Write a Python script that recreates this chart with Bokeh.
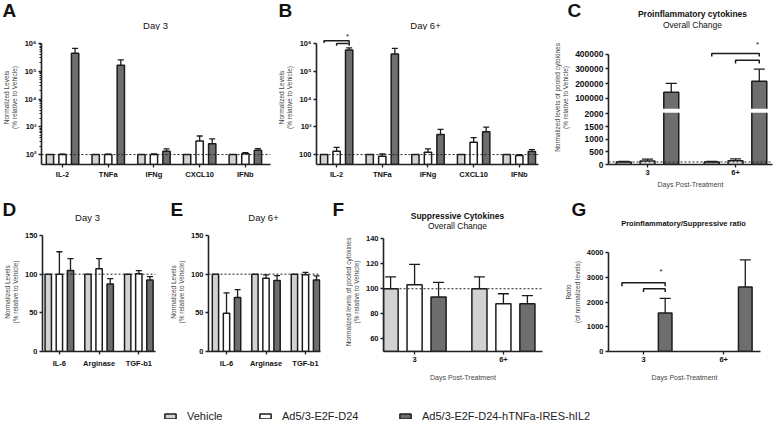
from bokeh.plotting import figure
from bokeh.models import (Range1d, FixedTicker, Span, Whisker, TeeHead, ColumnDataSource,
                          Legend, LegendItem)
from bokeh.layouts import column, row
from bokeh.embed import file_html
from bokeh.resources import INLINE
from bokeh.core.properties import value

FONT = "Liberation Sans"
SERIES = ["Vehicle", "Ad5/3-E2F-D24", "Ad5/3-E2F-D24-hTNFa-IRES-hIL2"]
FILLS = ["#d2d2d2", "#ffffff", "#6e6e6e"]
EDGE = "#1c1c1c"

# ---------------- data ----------------
pro_cats = ["IL-2", "TNFa", "IFNg", "CXCL10", "IFNb"]
a_vehicle = [100, 100, 100, 100, 100]
a_ad5 = [100, 100, 100, 310, 108]
a_ad5_err = [104, 103, 105, 466, 118]
a_armed = [440000, 163000, 132, 248, 143]
a_armed_err = [660000, 257000, 160, 365, 164]

b_vehicle = [100, 100, 100, 100, 100]
b_ad5 = [131, 87, 121, 277, 92]
b_ad5_err = [183, 105, 160, 405, 100]
b_armed = [575000, 415000, 533, 665, 130]
b_armed_err = [690000, 660000, 810, 980, 150]

days = ["3", "6+"]
c_vehicle = [100, 100]
c_vehicle_err = [125, 118]
c_ad5 = [140, 145]
c_ad5_err = [215, 220]
c_armed = [140000, 215000]
c_armed_err = [201500, 298500]

sup_cats = ["IL-6", "Arginase", "TGF-b1"]
d_vehicle = [100, 100, 100]
d_ad5 = [100, 107, 100.5]
d_ad5_err = [129, 120, 104.6]
d_armed = [104.6, 87.4, 92.6]
d_armed_err = [120, 94.3, 96.9]

e_vehicle = [100, 100, 100]
e_ad5 = [49.3, 94.6, 99.4]
e_ad5_err = [75.9, 99, 102.3]
e_armed = [69.9, 91.7, 92.6]
e_armed_err = [80, 98, 97.7]

f_vehicle = [100, 100]
f_vehicle_err = [109.5, 109.5]
f_ad5 = [103.2, 88]
f_ad5_err = [119.4, 96]
f_armed = [93.5, 88]
f_armed_err = [105, 94.5]

g_armed = [1560, 2610]
g_armed_err = [2150, 3700]

log_ticks = [100, 1000, 10000, 100000, 1000000]
a_tick_labels = ["10\u00b2", "10\u00b3", "10\u2074", "10\u2075", "10\u2076"]
b_tick_labels = ["100", "10\u00b3", "10\u2074", "10\u2075", "10\u2076"]
c_ticks = [0, 500, 1000, 1500, 2000, 100000, 200000, 300000, 400000]

# broken axis for C (lower segment 0-2000, upper 100000-400000)
C_LOW_MAX = 2000
C_UP_MIN = 100000
C_GAP = 625
C_UP_SPAN = 1725


def c_disp(v):
    if v <= C_LOW_MAX:
        return v
    return C_LOW_MAX + C_GAP + (v - C_UP_MIN) * C_UP_SPAN / 300000


YLAB_NORM = "Normalized Levels\n(% relative to Vehicle)"
YLAB_POOL = "Normalized levels of pooled cytokines\n(% relative to Vehicle)"
XLAB_DAYS = "Days Post-Treatment"

W = 776


def make_fig(w, h, bl, br, bt, bb, xr, yr, ytype="linear"):
    p = figure(width=w, height=h, x_range=Range1d(*xr), y_range=Range1d(*yr),
               y_axis_type=ytype, output_backend="svg", toolbar_location=None,
               min_border_left=bl, min_border_right=br, min_border_top=bt,
               min_border_bottom=bb)
    p.outline_line_color = None
    p.grid.visible = False
    p.background_fill_color = "white"
    p.border_fill_color = "white"
    for ax in (p.xaxis, p.yaxis):
        ax.axis_line_color = "#222222"
        ax.axis_line_width = 1.6
        ax.major_tick_line_color = "#222222"
        ax.major_tick_line_width = 1.3
        ax.major_tick_out = 3
        ax.major_tick_in = 0
        ax.minor_tick_line_color = None
        ax.major_label_text_font = FONT
        ax.major_label_text_font_style = "bold"
        ax.major_label_text_font_size = "7.5px"
        ax.major_label_text_color = "#111111"
        ax.major_label_standoff = 2
        ax.axis_label_text_font = FONT
        ax.axis_label_text_font_style = "normal"
        ax.axis_label_text_font_size = "6.5px"
        ax.axis_label_text_color = "#444444"
        ax.axis_label_standoff = 3
    return p


def blank_fig(h):
    p = figure(width=W, height=h, x_range=Range1d(0, W), y_range=Range1d(h, 0),
               output_backend="svg", toolbar_location=None, x_axis_location=None,
               y_axis_location=None, min_border=0)
    p.outline_line_color = None
    p.grid.visible = False
    return p


def header(h, items):
    # items: (x, y, text, size, bold, align) in header pixels
    p = blank_fig(h)
    for x, y, t, size, bold, align in items:
        p.text(x=[x], y=[y], text=[t], text_font=value(FONT), text_font_size=size,
               text_font_style="bold" if bold else "normal", text_align=align,
               text_baseline="middle", text_color="#111111")
    return p


def set_xcats(p, labels, xlabel=None, standoff=3):
    p.xaxis.ticker = FixedTicker(ticks=list(range(len(labels))))
    p.xaxis.major_label_overrides = {i: s for i, s in enumerate(labels)}
    if xlabel:
        p.xaxis.axis_label = xlabel
        p.xaxis.axis_label_text_font_size = "7px"
        p.xaxis.axis_label_standoff = standoff


def draw_bars(p, vals_list, err_list, off, width, bottom, head):
    for k, (vals, errs) in enumerate(zip(vals_list, err_list)):
        if vals is None:
            continue
        xs = [i + (k - 1) * off for i in range(len(vals))]
        p.vbar(x=xs, top=vals, bottom=bottom, width=width, fill_color=FILLS[k],
               line_color=EDGE, line_width=1.5)
        if errs is not None:
            src = ColumnDataSource(dict(x=xs, lo=vals, hi=errs))
            p.add_layout(Whisker(source=src, base="x", lower="lo", upper="hi",
                                 dimension="height", line_color=EDGE, line_width=1.3,
                                 upper_head=TeeHead(size=head, line_color=EDGE, line_width=1.3),
                                 lower_head=None))


def draw_sig(p, center, off, pairs, ys, drops, star_dx, star_y):
    xs_l, ys_l = [], []
    for (a, b), y, yd in zip(pairs, ys, drops):
        x0 = center + (a - 1) * off
        x1 = center + (b - 1) * off
        xs_l.append([x0, x0, x1, x1])
        ys_l.append([yd, y, y, yd])
    p.multi_line(xs_l, ys_l, line_color=EDGE, line_width=1.5)
    p.text(x=[center + star_dx], y=[star_y], text=["*"], text_font=value(FONT),
           text_font_size="8px", text_align="center", text_baseline="middle",
           text_color="#111111")


def ref_line(p, v=100):
    p.add_layout(Span(location=v, dimension="width", line_dash="2 2",
                      line_color="#222222", line_width=1))


# ---------------- row 1 ----------------
H1 = 30
head1 = header(H1, [
    (2, 9.5, "A", "19px", True, "left"),
    (278, 9.5, "B", "19px", True, "left"),
    (567, 9.5, "C", "19px", True, "left"),
    (155, 25, "Day 3", "9.5px", False, "center"),
    (425, 25, "Day 6+", "9.5px", False, "center"),
    (692, 13, "Proinflammatory cytokines", "8.5px", True, "center"),
    (692, 24, "Overall Change", "8.5px", False, "center"),
])

R1_H, R1_BT, R1_BB = 160, 0, 25
R1_FH = R1_H - R1_BT - R1_BB
LOG_BASE = 44
LOG_PX_DEC = 28.0
log_top = 10 ** (R1_FH / LOG_PX_DEC + 1.6435)

# A
pA = make_fig(272, R1_H, 41, 2, R1_BT, R1_BB, (-0.46, 4.55), (LOG_BASE, log_top), "log")
pA.yaxis.ticker = FixedTicker(ticks=log_ticks,
                              minor_ticks=[m * 10 ** e for e in range(2, 6) for m in range(2, 10)])
pA.yaxis.minor_tick_line_color = "#222222"
pA.yaxis.minor_tick_out = 2
pA.yaxis.minor_tick_in = 0
pA.yaxis.major_label_overrides = dict(zip(log_ticks, a_tick_labels))
pA.yaxis.bounds = (LOG_BASE, 1000000)
pA.yaxis.axis_label = YLAB_NORM
set_xcats(pA, pro_cats)
ref_line(pA)
draw_bars(pA, [a_vehicle, a_ad5, a_armed], [None, a_ad5_err, a_armed_err], 0.275, 0.16, 1, 6)

# B
pB = make_fig(268, R1_H, 44, 2, R1_BT, R1_BB, (-0.44, 4.42), (LOG_BASE, log_top), "log")
pB.yaxis.ticker = FixedTicker(ticks=log_ticks)
pB.yaxis.major_label_overrides = dict(zip(log_ticks, b_tick_labels))
pB.yaxis.bounds = (LOG_BASE, 1000000)
pB.yaxis.axis_label = YLAB_NORM
set_xcats(pB, pro_cats)
ref_line(pB)
draw_bars(pB, [b_vehicle, b_ad5, b_armed], [None, b_ad5_err, b_armed_err], 0.275, 0.16, 1, 6)
draw_sig(pB, 0, 0.275, [(0, 2), (1, 2)], [1250000, 1000000], [1040000, 830000], 0.24, 1750000)

# C
c_top = R1_FH * 2000 / 51
pC = make_fig(236, R1_H, 68, 4, R1_BT, R1_BB, (-0.443, 1.42), (0, c_top))
c_tick_pos = [c_disp(v) for v in c_ticks]
pC.yaxis.ticker = FixedTicker(ticks=c_tick_pos)
pC.yaxis.major_label_overrides = {d: str(v) for d, v in zip(c_tick_pos, c_ticks)}
pC.yaxis.major_label_text_font_size = "8.5px"
pC.yaxis.bounds = (0, c_disp(400000))
pC.yaxis.axis_label = YLAB_POOL
set_xcats(pC, days, XLAB_DAYS, 3)
ref_line(pC)
draw_bars(pC, [[c_disp(v) for v in c_vehicle], [c_disp(v) for v in c_ad5],
               [c_disp(v) for v in c_armed]],
          [[c_disp(v) for v in c_vehicle_err], [c_disp(v) for v in c_ad5_err],
           [c_disp(v) for v in c_armed_err]], 0.27, 0.17, 0, 11)
pC.quad(left=[-0.443], right=[1.42], bottom=[C_LOW_MAX + 40], top=[C_LOW_MAX + 200],
        fill_color="white", line_color=None)
draw_sig(pC, 1, 0.27, [(0, 2), (1, 2)], [c_disp(407000), c_disp(360000)],
         [c_disp(385000), c_disp(338000)], 0.25, c_disp(465000))

# ---------------- row 2 ----------------
H2 = 40
head2 = header(H2, [
    (2, 19, "D", "19px", True, "left"),
    (170, 19, "E", "19px", True, "left"),
    (332, 19, "F", "19px", True, "left"),
    (571, 19, "G", "19px", True, "left"),
    (87, 27, "Day 3", "9.5px", False, "center"),
    (263, 27, "Day 6+", "9.5px", False, "center"),
    (457, 25, "Suppressive Cytokines", "8.5px", True, "center"),
    (457, 35, "Overall Change", "8.5px", False, "center"),
    (683, 33, "Proinflammatory/Suppressive ratio", "7.5px", True, "center"),
])

R2_H, R2_BT, R2_BB = 162, 2, 41
R2_FH = R2_H - R2_BT - R2_BB

# D
de_top = 150 * R2_FH / 116
pD = make_fig(162, R2_H, 41, 7, R2_BT, R2_BB, (-0.425, 2.42), (0, de_top))
pD.yaxis.ticker = FixedTicker(ticks=[0, 50, 100, 150])
pD.yaxis.bounds = (0, 150)
pD.yaxis.axis_label = YLAB_NORM
set_xcats(pD, sup_cats)
pD.xaxis.major_label_standoff = 4
ref_line(pD)
draw_bars(pD, [d_vehicle, d_ad5, d_armed], [None, d_ad5_err, d_armed_err], 0.28, 0.16, 0, 6)

# E
pE = make_fig(163, R2_H, 46, 5, R2_BT, R2_BB, (-0.456, 2.38), (0, de_top))
pE.yaxis.ticker = FixedTicker(ticks=[0, 50, 100, 150])
pE.yaxis.bounds = (0, 150)
pE.yaxis.axis_label = YLAB_NORM
set_xcats(pE, sup_cats)
pE.xaxis.major_label_standoff = 4
ref_line(pE)
draw_bars(pE, [e_vehicle, e_ad5, e_armed], [None, e_ad5_err, e_armed_err], 0.28, 0.16, 0, 6)

# F
f_top = 50 + 90 * R2_FH / 113
pF = make_fig(221, R2_H, 58, 4, R2_BT, R2_BB, (-0.35, 1.44), (50, f_top))
pF.yaxis.ticker = FixedTicker(ticks=[60, 80, 100, 120, 140])
pF.yaxis.bounds = (50, 140)
pF.yaxis.axis_label = YLAB_POOL
set_xcats(pF, days, XLAB_DAYS, 9)
ref_line(pF)
draw_bars(pF, [f_vehicle, f_ad5, f_armed], [f_vehicle_err, f_ad5_err, f_armed_err], 0.27, 0.17, 0, 11)

# G
g_top = 4000 * R2_FH / 99
pG = make_fig(230, R2_H, 62, 16, R2_BT, R2_BB, (-0.4375, 1.46), (0, g_top))
pG.yaxis.ticker = FixedTicker(ticks=[0, 1000, 2000, 3000, 4000])
pG.yaxis.bounds = (0, 4000)
pG.yaxis.axis_label = "Ratio\n(of normalized levels)"
set_xcats(pG, days, XLAB_DAYS, 9)
draw_bars(pG, [None, None, g_armed], [None, None, g_armed_err], 0.27, 0.17, 0, 11)
draw_sig(pG, 0, 0.27, [(0, 2), (1, 2)], [2780, 2540], [2640, 2400], 0.22, 3250)

# ---------------- legend ----------------
lg = figure(width=W, height=31, x_range=Range1d(0, 1), y_range=Range1d(0, 1),
            output_backend="svg", toolbar_location=None, x_axis_location=None,
            y_axis_location=None, min_border=0)
lg.outline_line_color = None
lg.grid.visible = False
for k, lx in enumerate([163, 258, 398]):
    # hidden placeholder renderer, only to give the legend swatch its style
    r = lg.vbar(x=[0.5], top=[1], bottom=[0], width=0.1, fill_color=FILLS[k],
                line_color=EDGE, line_width=1.5)
    r.visible = False
    leg = Legend(items=[LegendItem(label=SERIES[k], renderers=[r])], location=(lx, 1),
                 orientation="horizontal", padding=0, margin=0, border_line_color=None,
                 background_fill_alpha=0, glyph_width=14, glyph_height=6, label_standoff=10,
                 label_text_font=FONT, label_text_font_size="11px", label_height=12,
                 label_text_color="#222222", inactive_fill_alpha=0)
    lg.add_layout(leg)

layout = column(head1, row(pA, pB, pC), head2, row(pD, pE, pF, pG), lg)
open("out.html", "w").write(file_html(layout, INLINE, title="cytokines"))
